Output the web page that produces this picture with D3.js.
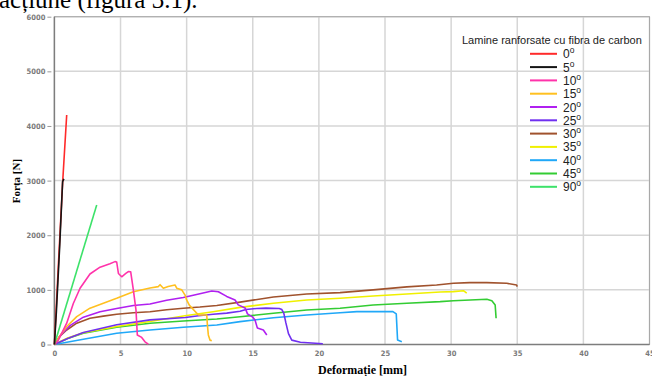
<!DOCTYPE html>
<html>
<head>
<meta charset="utf-8">
<script src="https://cdn.jsdelivr.net/npm/d3@7"></script>
<style>
  html, body { margin: 0; padding: 0; background: #fff; }
  svg { display: block; }
</style>
</head>
<body>
<div id="chart"></div>
<script>
// strain [mm] vs force [N], one array per fibre angle
const s0  = [[0,0],[0.3,1450],[0.62,2950],[0.93,4200]];
const s5  = [[0,0],[0.15,600],[0.4,1800],[0.62,2980],[0.72,3030]];
const s10 = [[0,0],[0.3,80],[0.93,390],[1.43,750],[1.94,1030],[2.69,1290],[3.45,1415],[4.2,1480],[4.58,1517],[4.71,1510],
  [4.84,1300],[5.09,1240],[5.4,1300],[5.59,1335],[5.77,1330],[5.97,1000],[6.17,630],[6.27,175],[6.6,130],[6.85,50],[7.1,5]];
const s15 = [[0,0],[0.4,150],[0.93,330],[1.69,510],[2.69,665],[3.7,755],[4.71,845],[5.97,965],[7.23,1035],[7.86,1060],
  [7.99,1095],[8.24,1030],[8.6,1060],[9.12,1090],[9.25,1030],[9.63,1000],[9.88,905],[10.0,815],[10.2,720],[10.89,540],
  [11.52,540],[11.57,355],[11.64,175],[11.77,80],[11.9,70]];
const s20 = [[0,0],[0.5,180],[1.2,350],[2.19,500],[3.45,600],[4.71,660],[5.97,715],[7.23,740],[8.49,810],[9.75,860],
  [11.0,930],[11.9,980],[12.4,965],[13.03,880],[13.66,815],[13.9,725],[14.42,670],[14.6,560],[15.0,500],[15.17,450],
  [15.35,300],[15.8,265],[16.06,175]];
const s25 = [[0,0],[1,110],[2.19,220],[4.71,360],[7.23,450],[9.9,495],[10.9,525],[12.0,555],[13.03,575],[14.04,610],
  [14.5,640],[15.3,660],[16.0,665],[17.0,660],[17.2,640],[17.35,570],[17.5,400],[17.7,200],[17.95,80],[18.6,40],[20.3,15]];
const s30 = [[0,0],[0.4,150],[0.93,265],[1.69,390],[2.69,480],[3.7,520],[4.71,553],[5.97,582],[7.23,600],[8.49,635],
  [9.75,663],[11.0,685],[12.28,715],[14.04,775],[16.56,870],[19.08,925],[21.6,950],[24.1,1000],[26.65,1055],[28.9,1090],
  [30.17,1120],[31.4,1132],[32.7,1132],[34.2,1120],[34.95,1090],[35.0,1060]];
const s35 = [[0,0],[1,120],[2.19,215],[4.71,330],[7.23,420],[9.75,522],[12.0,600],[14.04,680],[16.56,754],[19.08,815],
  [21.6,846],[24.1,888],[26.65,925],[29.17,960],[30.17,967],[30.93,985],[31.18,940]];
const s40 = [[0,0],[2.19,95],[4.71,205],[7.23,265],[9.75,315],[12.28,357],[14.04,418],[16.56,491],[19.08,540],[21.6,582],
  [22.87,601],[24.1,601],[25.6,601],[25.85,560],[25.95,82],[26.27,51]];
const s45 = [[0,0],[1,110],[2.19,205],[4.71,315],[7.23,388],[9.75,430],[12.28,467],[14.04,509],[16.56,571],[19.08,632],
  [21.6,663],[24.1,723],[26.65,754],[29.17,784],[30.17,802],[32.7,828],[33.08,802],[33.33,723],[33.4,480]];
const s90 = [[0,0],[3.2,2555]];

const seriesNames = ['0', '5', '10', '15', '20', '25', '30', '35', '40', '45', '90'];
const seriesData = [s0, s5, s10, s15, s20, s25, s30, s35, s40, s45, s90];
const seriesColors = ['#ff2a2a', '#151515', '#ff33aa', '#ffc020', '#b020f0', '#7030f0',
  '#a0522d', '#f0f000', '#20a8f8', '#33cc33', '#3de26a'];
// draw order: lower-lying curves first
const drawOrder = [8, 9, 7, 5, 6, 4, 3, 2, 10, 0, 1];

const xTicks = [0, 5, 10, 15, 20, 25, 30, 35, 40, 45];
const yTicks = [0, 1000, 2000, 3000, 4000, 5000, 6000];

const W = 652, H = 376;
const margin = { top: 16.7, right: 2.5, bottom: 31.5, left: 54.4 };

const svg = d3.select('#chart').append('svg')
  .attr('width', W)
  .attr('height', H);

// cropped caption from the document above the figure
svg.append('text')
  .attr('x', -1)
  .attr('y', 8)
  .attr('font-family', '"Liberation Serif", "Times New Roman", serif')
  .attr('font-size', 25)
  .attr('fill', '#000')
  .text('acțiune (figura 3.1).');

const x = d3.scaleLinear().domain([0, 45]).range([margin.left, W - margin.right]);
const y = d3.scaleLinear().domain([0, 6000]).range([H - margin.bottom, margin.top]);

// grid
const grid = svg.append('g');
grid.selectAll('.vx').data(xTicks.slice(1))
  .enter().append('line')
  .attr('x1', d => x(d)).attr('x2', d => x(d))
  .attr('y1', y(0)).attr('y2', y(6000))
  .attr('stroke', '#d6d6d6').attr('stroke-width', 1.5);
grid.selectAll('.hy').data(yTicks.slice(1))
  .enter().append('line')
  .attr('x1', x(0)).attr('x2', x(45))
  .attr('y1', d => y(d)).attr('y2', d => y(d))
  .attr('stroke', '#d6d6d6').attr('stroke-width', 1.5);

// frame
svg.append('rect')
  .attr('x', x(0)).attr('y', y(6000))
  .attr('width', x(45) - x(0)).attr('height', y(0) - y(6000))
  .attr('fill', 'none').attr('stroke', '#a8a8a8').attr('stroke-width', 1);

const tickFont = '"DejaVu Sans Condensed", "DejaVu Sans", sans-serif';

svg.append('g')
  .attr('transform', `translate(${x(0) - 3},0)`)
  .call(d3.axisLeft(y).tickValues(yTicks).tickFormat(d3.format('d')).tickSize(4).tickPadding(2))
  .call(g => g.select('.domain').remove())
  .call(g => g.selectAll('.tick line').attr('stroke', '#999'))
  .call(g => g.selectAll('.tick text').attr('fill', '#7a7a7a').attr('font-size', 7.5)
    .attr('font-weight', 'bold').attr('font-family', tickFont));

svg.append('g')
  .attr('transform', `translate(0,${y(0)})`)
  .call(d3.axisBottom(x).tickValues(xTicks).tickFormat(d3.format('d')).tickSize(0).tickPadding(6))
  .call(g => g.select('.domain').remove())
  .call(g => g.selectAll('.tick text').attr('fill', '#7a7a7a').attr('font-size', 7.5)
    .attr('font-weight', 'bold').attr('font-family', tickFont));

// left and bottom axis lines, a bit darker than the frame
svg.append('line')
  .attr('x1', x(0)).attr('x2', x(0)).attr('y1', y(0)).attr('y2', y(6000))
  .attr('stroke', '#7d7d7d').attr('stroke-width', 1.5);
svg.append('line')
  .attr('x1', x(0)).attr('x2', x(45)).attr('y1', y(0)).attr('y2', y(0))
  .attr('stroke', '#7d7d7d').attr('stroke-width', 1.5);

// curves
const line = d3.line().x(d => x(d[0])).y(d => y(d[1]));
svg.append('g').selectAll('path')
  .data(drawOrder)
  .enter().append('path')
  .attr('d', i => line(seriesData[i]))
  .attr('fill', 'none')
  .attr('stroke', i => seriesColors[i])
  .attr('stroke-width', 1.6)
  .attr('stroke-linejoin', 'round');

// axis titles
const serif = '"Liberation Serif", "Times New Roman", serif';
svg.append('text')
  .attr('x', 362.5).attr('y', 374)
  .attr('text-anchor', 'middle')
  .attr('font-family', serif).attr('font-weight', 'bold').attr('font-size', 12)
  .text('Deformație [mm]');
svg.append('text')
  .attr('transform', 'translate(19.5,181) rotate(-90)')
  .attr('text-anchor', 'middle')
  .attr('font-family', serif).attr('font-weight', 'bold').attr('font-size', 11)
  .text('Forța [N]');

// legend
const legend = svg.append('g');
legend.append('text')
  .attr('x', 462).attr('y', 44)
  .attr('font-family', '"Liberation Sans", Arial, sans-serif').attr('font-size', 11)
  .attr('fill', '#222')
  .text('Lamine ranforsate cu fibra de carbon');

const items = legend.selectAll('.item')
  .data(seriesNames)
  .enter().append('g')
  .attr('transform', (d, i) => `translate(0,${53.8 + i * 13.3})`);
items.append('line')
  .attr('x1', 530).attr('x2', 557)
  .attr('stroke', (d, i) => seriesColors[i])
  .attr('stroke-width', 2);
const labels = items.append('text')
  .attr('x', 563).attr('y', 4.5)
  .attr('font-family', '"Liberation Sans", Arial, sans-serif').attr('font-size', 12)
  .attr('fill', '#222');
labels.append('tspan').text(d => d);
labels.append('tspan').attr('dy', -5).attr('font-size', 8.5).text('o');
</script>
</body>
</html>
